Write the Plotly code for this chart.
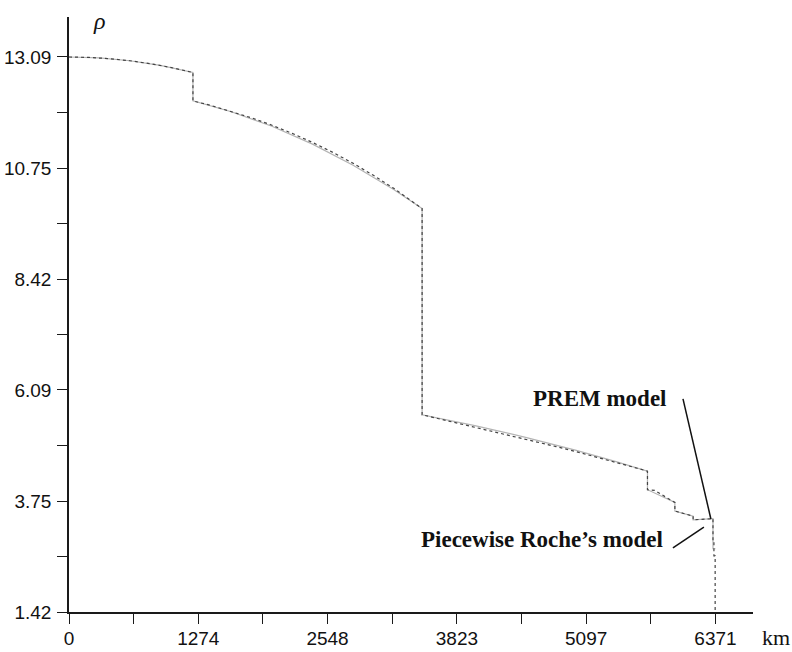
import plotly.graph_objects as go

# ---- data (radius in km, density in g/cm^3) ----
PREM_R = [0, 200, 400, 600, 800, 1000, 1221.5,
          1221.5, 1400, 1600, 1800, 2000, 2200, 2400, 2600, 2800, 3000, 3200, 3300, 3480,
          3480, 3800, 4000, 4200, 4400, 4600, 4800, 5000, 5200, 5400, 5600, 5701,
          5701, 5771, 5971, 5971, 6151, 6151, 6291, 6346.6, 6346.6, 6356, 6356, 6368, 6368, 6371]
PREM_RHO = [13.0885, 13.0798, 13.0537, 13.0101, 12.9491, 12.8708, 12.7636,
            12.1663, 12.0692, 11.9468, 11.8090, 11.6548, 11.4831, 11.2930, 11.0833, 10.8532, 10.6015, 10.3272, 10.1814, 9.9035,
            5.5665, 5.4068, 5.3073, 5.2071, 5.1059, 5.0030, 4.8979, 4.7898, 4.6785, 4.5631, 4.4432, 4.3807,
            3.9921, 3.9758, 3.7237, 3.5433, 3.4358, 3.3595, 3.3747, 3.3808, 2.9000, 2.9000, 2.6000, 2.6000, 1.0200, 1.0200]

ROCHE_R = [0, 300, 600, 900, 1221.5,
           1221.5, 1600, 2000, 2400, 2800, 3200, 3480,
           3480, 4000, 4500, 5000, 5400, 5701,
           5701, 5971, 5971, 6151, 6151, 6346.6, 6346.6, 6371]
ROCHE_RHO = [13.0885, 13.0689, 13.0101, 12.9121, 12.7636,
             12.1663, 11.9387, 11.6319, 11.2568, 10.8136, 10.3021, 9.9035,
             5.5665, 5.3402, 5.0931, 4.8169, 4.5750, 4.3807,
             3.9921, 3.7237, 3.5433, 3.4358, 3.3595, 3.3808, 2.7500, 2.7500]

X_TICKS = [0, 1274, 2548, 3823, 5097, 6371]
X_TICK_TEXT = ["0", "1274", "2548", "3823", "5097", "6371"]
Y_TICKS = [1.42, 3.75, 6.09, 8.42, 10.75, 13.09]
Y_TICK_TEXT = ["1.42", "3.75", "6.09", "8.42", "10.75", "13.09"]

X_MINOR = [(a + b) / 2 for a, b in zip(X_TICKS[:-1], X_TICKS[1:])]
Y_MINOR = [(a + b) / 2 for a, b in zip(Y_TICKS[:-1], Y_TICKS[1:])]

fig = go.Figure()
fig.add_trace(go.Scatter(x=ROCHE_R, y=ROCHE_RHO, mode="lines",
                         line=dict(color="#b4b4b4", width=1.2),
                         name="Piecewise Roche's model", showlegend=False))
fig.add_trace(go.Scatter(x=PREM_R, y=PREM_RHO, mode="lines",
                         line=dict(color="#444444", width=1.2, dash="dot"),
                         name="PREM model", showlegend=False))

axis_common = dict(showgrid=False, zeroline=False, showline=True, automargin=False,
                   linecolor="#1a1a1a", linewidth=1.5,
                   ticks="outside", ticklen=10, tickwidth=1.3, tickcolor="#1a1a1a",
                   tickfont=dict(family="Liberation Sans, Arial", size=19, color="#111"))

fig.update_xaxes(range=[0, 6741], tickmode="array", tickvals=X_TICKS, ticktext=X_TICK_TEXT,
                 minor=dict(tickmode="array", tickvals=X_MINOR, ticks="outside",
                            ticklen=10, tickwidth=1.3, tickcolor="#1a1a1a"),
                 ticklabelstandoff=-2,
                 **axis_common)
fig.update_yaxes(range=[1.42, 13.93], tickmode="array", tickvals=Y_TICKS, ticktext=Y_TICK_TEXT,
                 minor=dict(tickmode="array", tickvals=Y_MINOR, ticks="outside",
                            ticklen=10, tickwidth=1.3, tickcolor="#1a1a1a"),
                 ticklabelstandoff=2,
                 **axis_common)

serif_bold = dict(family="Liberation Serif, Times New Roman", size=23, color="#111", weight="bold")

fig.add_annotation(x=5233, y=5.90, xref="x", yref="y", text="PREM model",
                   showarrow=False, font=serif_bold)
fig.add_annotation(x=4661, y=2.95, xref="x", yref="y", text="Piecewise Roche\u2019s model",
                   showarrow=False, font=serif_bold)

# pointer lines
fig.add_shape(type="line", xref="x", yref="y", x0=6051, y0=5.90, x1=6326, y1=3.375,
              line=dict(color="#111", width=1.5))
fig.add_shape(type="line", xref="x", yref="y", x0=5952, y0=2.766, x1=6257, y1=3.207,
              line=dict(color="#111", width=1.5))

fig.add_annotation(x=30 / 684, y=591 / 595, xref="paper", yref="paper", text="\u03c1",
                   xanchor="center", yanchor="middle", showarrow=False,
                   font=dict(family="Liberation Serif, Times New Roman", size=24, color="#111", style="italic"))
fig.add_annotation(x=(776 - 69) / 684, y=(612 - 637) / 595, xref="paper", yref="paper", text="km",
                   xanchor="center", yanchor="middle", showarrow=False,
                   font=dict(family="Liberation Serif, Times New Roman", size=22, color="#111"))

fig.update_layout(width=792, height=652,
                  margin=dict(l=69, r=39, t=17, b=40),
                  plot_bgcolor="white", paper_bgcolor="white")

fig.write_html("out.html", config={"displayModeBar": False},
               post_script="document.body.style.margin='0px';document.body.style.overflow='hidden';")
